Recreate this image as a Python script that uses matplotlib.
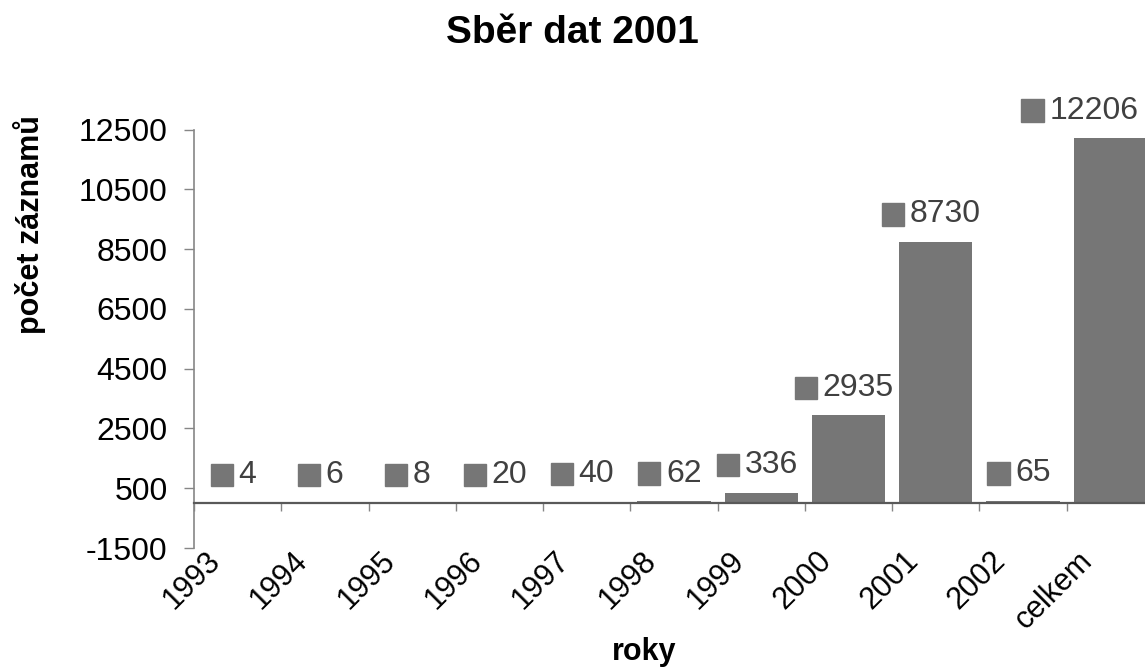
import matplotlib
matplotlib.use('Agg')
import matplotlib.pyplot as plt
import numpy as np
from matplotlib.offsetbox import AnnotationBbox, DrawingArea, TextArea, HPacker
from matplotlib.patches import Rectangle

plt.rcParams['font.family'] = ['Liberation Sans', 'DejaVu Sans']

# data
categories = ['1993', '1994', '1995', '1996', '1997', '1998', '1999',
              '2000', '2001', '2002', 'celkem']
counts = [4, 6, 8, 20, 40, 62, 336, 2935, 8730, 65, 12206]
y_ticks = np.arange(-1500, 12501, 2000)

bar_color = '#767676'
x = np.arange(len(categories))

fig = plt.figure(figsize=(11.45, 6.68), dpi=100)
ax = fig.add_axes([194 / 1145, 1 - 548 / 668, 960 / 1145, 418.4 / 668])

ax.bar(x, counts, width=0.84, color=bar_color, zorder=2)

ax.set_xlim(-0.5, len(categories) - 0.5)
ax.set_ylim(-1500, 12500)
ax.set_yticks(y_ticks, labels=[str(v) for v in y_ticks], fontsize=23)

# axis lines
ax.spines['top'].set_visible(False)
ax.spines['right'].set_visible(False)
ax.spines['left'].set_color('#868686')
ax.spines['left'].set_linewidth(1.2)
ax.spines['bottom'].set_position(('data', 0))
ax.spines['bottom'].set_color('#595959')
ax.spines['bottom'].set_linewidth(1.6)
ax.spines['bottom'].set_zorder(3)

ax.tick_params(axis='y', direction='out', length=7, width=1, color='#868686',
               pad=12)
ax.set_xticks(np.arange(-0.5, len(categories) - 0.5, 1))
ax.tick_params(axis='x', direction='out', length=6, width=1, color='#868686',
               labelbottom=False)

# category labels under the plot area
sec = ax.secondary_xaxis(0.0)
sec.spines['bottom'].set_visible(False)
sec.set_xticks(x - 0.25, labels=categories, fontsize=22)
sec.tick_params(length=0, pad=6)
for lab in sec.get_xticklabels():
    lab.set_rotation(45)
    lab.set_ha('right')
    lab.set_va('center')
    lab.set_rotation_mode('anchor')

# data labels with legend key
for i, v in enumerate(counts):
    key = DrawingArea(16, 16, 0, 0)
    key.add_artist(Rectangle((0, 0), 16, 16, color=bar_color))
    txt = TextArea(str(v), textprops=dict(fontsize=23, color='#404040'))
    box = HPacker(children=[key, txt], align='center', pad=0, sep=4)
    dx = -22 if i == len(counts) - 1 else -3
    ab = AnnotationBbox(box, (i, v), xybox=(dx, 20), xycoords='data',
                        boxcoords='offset points', frameon=False,
                        box_alignment=(0.5, 0.5), pad=0,
                        annotation_clip=False)
    ax.add_artist(ab)

fig.suptitle('Sběr dat 2001', y=1 - 33 / 668, va='center',
             fontsize=28, fontweight='bold')

ax.set_ylabel('počet záznamů', fontsize=22, fontweight='bold')
ax.yaxis.set_label_coords(30 / 1145, 1 - 225 / 668, transform=fig.transFigure)
ax.yaxis.label.set_va('center')
ax.set_xlabel('roky', fontsize=22, fontweight='bold')
ax.xaxis.set_label_coords(644 / 1145, 1 - 652 / 668, transform=fig.transFigure)
ax.xaxis.label.set_va('center')

fig.savefig('out.png', dpi=100)
